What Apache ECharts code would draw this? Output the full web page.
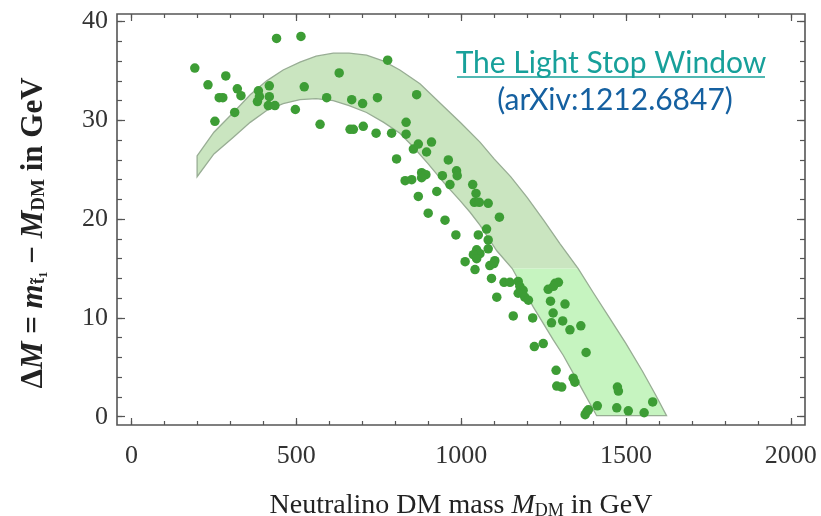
<!DOCTYPE html>
<html><head><meta charset="utf-8">
<script src="https://cdn.jsdelivr.net/npm/echarts@6/dist/echarts.min.js"></script>
<style>html,body{margin:0;padding:0;background:#fff}#c{width:821px;height:516px}</style>
</head><body><div id="c"></div>
<script>
// ---- axis ticks / labels ----
const xMajor = [0, 500, 1000, 1500, 2000];
const xMinor = [0,100,200,300,400,500,600,700,800,900,1000,1100,1200,1300,1400,1500,1600,1700,1800,1900,2000];
const yMajor = [0, 10, 20, 30, 40];
const yMinor = [0,2,4,6,8,10,12,14,16,18,20,22,24,26,28,30,32,34,36,38,40];
const xRange = [-44, 2043];
const yRange = [-0.84, 40.77];
const splitY = 15;

// ---- band boundaries ----
const bandUpper = [[199,26.4],[250,28.8],[309,30.8],[360,32.6],[410,34.0],[460,35.1],[511,35.9],[560,36.5],[612,36.8],[660,36.8],[713,36.6],[765,36.0],[814,35.1],[875,33.7],[950,31.3],[1000,29.7],[1057,27.8],[1100,26.1],[1150,24.3],[1200,22.2],[1250,19.9],[1300,17.5],[1355,15.0],[1400,12.6],[1450,10.0],[1500,7.4],[1550,4.6],[1590,2.2],[1623,0.1]];
const bandLower = [[199,24.3],[250,26.6],[309,28.3],[360,29.8],[410,31.0],[460,31.7],[511,32.1],[560,32.2],[612,32.0],[660,31.5],[713,30.8],[765,29.8],[814,28.7],[855,27.3],[900,25.6],[950,23.6],[996,21.9],[1027,20.7],[1057,19.4],[1108,16.8],[1155,15.0],[1219,11.1],[1279,7.8],[1310,6.2],[1360,3.2],[1411,0.1]];

// ---- scatter points ----
const scatterPoints = [
[192,35.3],[232,33.6],[253,29.9],[266,32.3],[277,32.3],[286,34.5],[313,30.8],[321,33.2],[332,32.5],
[382,31.9],[385,33.0],[388,32.4],[418,33.5],[418,32.4],[415,31.5],[435,31.5],[440,38.3],[514,38.5],
[497,31.1],[524,33.4],[572,29.6],[592,32.3],[630,34.8],[668,32.1],[701,31.7],[663,29.1],[673,29.1],
[703,29.4],[742,28.7],[746,32.3],[777,36.1],[789,28.7],[833,29.8],[833,28.6],[804,26.1],[865,32.6],
[855,27.1],[870,27.6],[910,27.8],[895,26.8],[830,23.9],[850,24.0],[880,24.7],[893,24.5],[880,24.2],
[870,22.3],[943,24.4],[961,26.0],[986,24.9],[988,24.4],[966,23.5],[926,22.8],[900,20.6],[951,19.9],
[1035,23.5],[1045,22.6],[1040,21.7],[1055,21.7],[1082,21.6],[1116,20.2],[984,18.4],[1052,18.4],
[1077,19.0],[1082,17.9],[1047,16.9],[1057,16.5],[1082,17.0],[1012,15.7],[1037,16.4],[1047,16.0],
[1102,15.8],[1042,14.9],[1087,15.3],[1099,15.5],[1092,14.0],[1130,13.6],[1148,13.6],[1173,13.7],
[1178,13.2],[1188,12.8],[1173,12.5],[1193,12.1],[1204,11.8],[1108,12.1],[1158,10.2],[1217,10.0],
[1264,12.9],[1285,13.5],[1295,13.6],[1280,13.2],[1271,11.7],[1315,11.4],[1279,10.5],[1274,9.5],
[1308,9.7],[1330,8.8],[1363,9.2],[1379,6.5],[1222,7.1],[1249,7.4],[1288,4.7],[1290,3.1],[1305,3.0],
[1340,3.9],[1345,3.5],[1474,3.0],[1477,2.6],[1381,0.5],[1376,0.2],[1386,0.7],[1413,1.1],[1472,0.9],
[1507,0.6],[1555,0.4],[1581,1.5]
];

// polygon clip against horizontal line (data space)
function clipPoly(poly, yc, keepAbove) {
  const inside = p => keepAbove ? p[1] >= yc : p[1] <= yc;
  const out = [];
  for (let i = 0; i < poly.length; i++) {
    const a = poly[i], b = poly[(i + 1) % poly.length];
    const ia = inside(a), ib = inside(b);
    if (ia) out.push(a);
    if (ia !== ib) {
      const t = (yc - a[1]) / (b[1] - a[1]);
      out.push([a[0] + t * (b[0] - a[0]), yc]);
    }
  }
  return out;
}
const fullPoly = bandUpper.concat(bandLower.slice().reverse());
const polyHi = clipPoly(fullPoly, splitY, true);
const polyLo = clipPoly(fullPoly, splitY, false);

const serif = 'Liberation Serif';
const tickColor = '#555';
const labelStyle = {fontFamily: serif, fontSize: 26, color: '#333', formatter: v => String(v)};

function xAx(grid, pos, ticks, len, labels) {
  return {type: 'value', gridIndex: grid, position: pos, min: xRange[0], max: xRange[1],
    axisLine: {show: false, onZero: false}, splitLine: {show: false},
    axisTick: {show: true, inside: true, length: len, customValues: ticks, lineStyle: {color: tickColor, width: 1.2}},
    axisLabel: labels ? Object.assign({show: true, customValues: xMajor, margin: 18}, labelStyle) : {show: false}};
}
function yAx(grid, pos, ticks, len, labels) {
  return {type: 'value', gridIndex: grid, position: pos, min: yRange[0], max: yRange[1],
    axisLine: {show: false, onZero: false}, splitLine: {show: false},
    axisTick: {show: true, inside: true, length: len, customValues: ticks, lineStyle: {color: tickColor, width: 1.2}},
    axisLabel: labels ? Object.assign({show: true, customValues: yMajor, margin: 9}, labelStyle) : {show: false}};
}

const gridRect = {left: 117, right: 16, top: 14, bottom: 91, containLabel: false, outerBoundsMode: 'none'};
const xAxes = [xAx(0,'bottom',xMinor,4,true), xAx(0,'top',xMinor,4,false), xAx(1,'bottom',xMajor,7,false), xAx(1,'top',xMajor,7,false)];
xAxes[0].name = '{n|Neutralino DM mass }{i|M}{s|DM}{n| in GeV}';
xAxes[0].nameLocation = 'middle';
xAxes[0].nameGap = 66;
xAxes[0].nameTextStyle = {fontFamily: serif, fontSize: 28, color: '#222', rich: {
  n: {fontFamily: serif, fontSize: 28, color: '#222'},
  i: {fontFamily: serif, fontSize: 28, color: '#222', fontStyle: 'italic'},
  s: {fontFamily: serif, fontSize: 18, color: '#222', padding: [11, 0, 0, 0]}
}};
const yAxes = [yAx(0,'left',yMinor,5,true), yAx(0,'right',yMinor,5,false), yAx(1,'left',yMajor,8,false), yAx(1,'right',yMajor,8,false)];

const chart = echarts.init(document.getElementById('c'), null, {renderer: 'canvas'});
const tc = '#222';
chart.setOption({
  animation: false,
  backgroundColor: '#fff',
  grid: [
    Object.assign({show: true, borderColor: '#555', borderWidth: 1.6, backgroundColor: 'transparent'}, gridRect),
    Object.assign({show: false}, gridRect)
  ],
  xAxis: xAxes,
  yAxis: yAxes,
  graphic: [
    {type: 'text', x: 34, y: 233, rotation: Math.PI / 2, style: {
      text: '{b|Δ}{bi|M}{b| = }{bi|m}{s|t̃}{ss|1}{b| − }{bi|M}{s|DM}{b| in GeV}',
      align: 'center', verticalAlign: 'middle',
      rich: {
        b: {fontFamily: serif, fontSize: 31, fontWeight: 'bold', fill: tc},
        bi: {fontFamily: serif, fontSize: 31, fontWeight: 'bold', fontStyle: 'italic', fill: tc},
        s: {fontFamily: serif, fontSize: 19, fontWeight: 'bold', fill: tc, padding: [11, 0, 0, 0]},
        ss: {fontFamily: serif, fontSize: 13, fontWeight: 'bold', fill: tc, padding: [20, 0, 0, 0]}
      }
    }},
    {type: 'text', x: 611, y: 63, z: 10, style: {text: 'The Light Stop Window', fontFamily: 'Lato', fontSize: 30, fill: '#17a09a', align: 'center', verticalAlign: 'middle'}},
    {type: 'line', z: 10, shape: {x1: 457, y1: 77, x2: 765, y2: 77}, style: {stroke: '#17a09a', lineWidth: 1.5}},
    {type: 'text', x: 615, y: 100, z: 10, style: {text: '(arXiv:1212.6847)', fontFamily: 'Lato', fontSize: 30, fill: '#1560a0', align: 'center', verticalAlign: 'middle'}}
  ],
  series: [
    {type: 'custom', xAxisIndex: 0, yAxisIndex: 0, silent: true, z: 1,
      data: [[0, 0]],
      renderItem: function (params, api) {
        const px = p => api.coord(p);
        return {type: 'group', children: [
          {type: 'polygon', shape: {points: polyHi.map(px)}, style: {fill: '#cae5c0'}},
          {type: 'polygon', shape: {points: polyLo.map(px)}, style: {fill: '#c6f4c0'}},
          {type: 'polygon', shape: {points: fullPoly.map(px)}, style: {fill: null, stroke: '#98ad94', lineWidth: 1.3}}
        ]};
      }
    },
    {type: 'scatter', xAxisIndex: 0, yAxisIndex: 0, z: 3, symbol: 'circle', symbolSize: 9.5,
      itemStyle: {color: '#3d9d35', opacity: 1}, data: scatterPoints}
  ]
});
</script></body></html>
